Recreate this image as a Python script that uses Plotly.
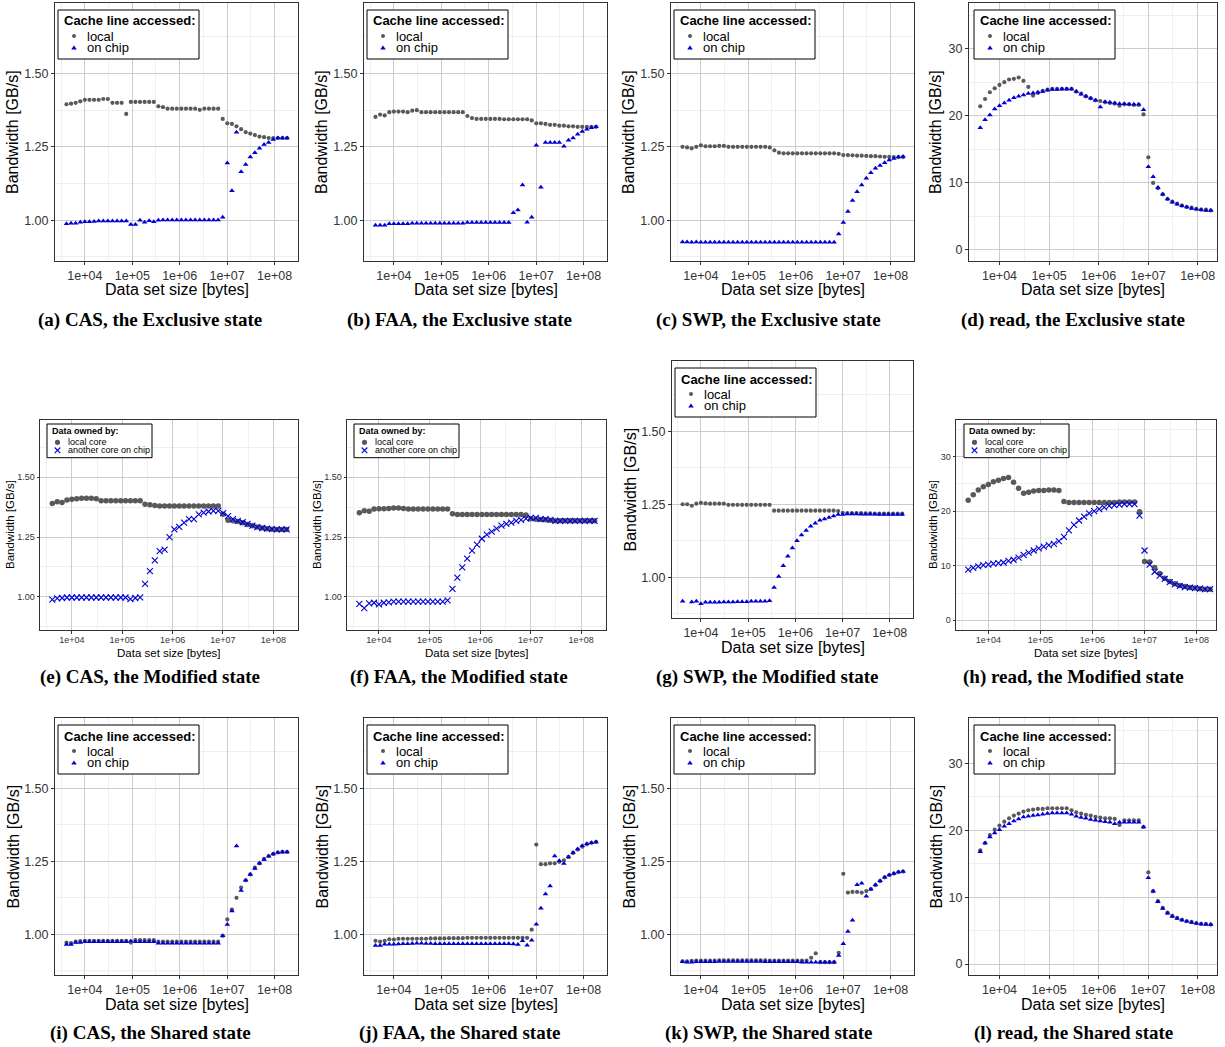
import plotly.graph_objects as go

W, H = 1225, 1047

# ---------------------------------------------------------------- data
# data set sizes in bytes (4 KiB growing by a factor of 1.25)
sizes = [4096, 5120, 6400, 8000, 10000, 12500, 15625, 19531, 24414, 30518,
         38147, 47684, 59605, 74506, 93132, 116415, 145519, 181899, 227374, 284217,
         355271, 444089, 555112, 693889, 867362, 1084202, 1355253, 1694066, 2117582, 2646978,
         3308722, 4135903, 5169879, 6462349, 8077936, 10097420, 12621775, 15777218, 19721523, 24651903,
         30814879, 38518599, 48148249, 60185311, 75231639, 94039548, 117549435, 146936794, 183670992]

x_tick_vals = [1e4, 1e5, 1e6, 1e7, 1e8]
x_tick_labels = ["1e+04", "1e+05", "1e+06", "1e+07", "1e+08"]
gbs_tick_vals = [1.00, 1.25, 1.50]
gbs_tick_labels = ["1.00", "1.25", "1.50"]
read_tick_vals = [0, 10, 20, 30]
read_tick_labels = ["0", "10", "20", "30"]

# (a) CAS, Exclusive
cas_excl_local = [1.395, 1.397, 1.400, 1.405, 1.410, 1.410, 1.410, 1.410, 1.413, 1.413,
                  1.400, 1.400, 1.400, 1.362, 1.403, 1.403, 1.403, 1.403, 1.403, 1.403,
                  1.388, 1.385, 1.380, 1.380, 1.380, 1.380, 1.380, 1.380, 1.380, 1.376,
                  1.380, 1.380, 1.380, 1.380, 1.345, 1.330, 1.328, 1.320, 1.310, 1.300,
                  1.295, 1.290, 1.285, 1.283, 1.280, 1.280, 1.280, 1.280, 1.280]
cas_excl_chip = [0.988, 0.990, 0.990, 0.993, 0.995, 0.995, 0.996, 0.997, 0.997, 0.997,
                 0.997, 0.997, 0.997, 0.997, 0.985, 0.985, 1.000, 0.993, 0.998, 0.995,
                 1.000, 1.001, 1.001, 1.001, 1.001, 1.001, 1.001, 1.001, 1.001, 1.001,
                 1.001, 1.001, 1.001, 1.001, 1.010, 1.195, 1.100, 1.300, 1.165, 1.190,
                 1.215, 1.230, 1.245, 1.258, 1.265, 1.275, 1.280, 1.280, 1.280]

# (b) FAA, Exclusive
faa_excl_local = [1.352, 1.360, 1.357, 1.368, 1.370, 1.370, 1.370, 1.368, 1.373, 1.375,
                  1.368, 1.368, 1.368, 1.368, 1.368, 1.368, 1.368, 1.368, 1.368, 1.368,
                  1.355, 1.348, 1.345, 1.345, 1.345, 1.345, 1.345, 1.345, 1.344, 1.344,
                  1.344, 1.344, 1.344, 1.344, 1.340, 1.330, 1.330, 1.328, 1.325, 1.325,
                  1.322, 1.322, 1.320, 1.320, 1.318, 1.318, 1.318, 1.318, 1.318]
faa_excl_chip = [0.983, 0.983, 0.983, 0.988, 0.988, 0.988, 0.988, 0.988, 0.990, 0.990,
                 0.990, 0.990, 0.990, 0.990, 0.990, 0.990, 0.990, 0.990, 0.990, 0.990,
                 0.992, 0.992, 0.992, 0.992, 0.992, 0.992, 0.992, 0.992, 0.992, 0.992,
                 1.025, 1.035, 1.120, 0.993, 1.010, 1.255, 1.112, 1.265, 1.265, 1.265,
                 1.265, 1.252, 1.272, 1.280, 1.293, 1.302, 1.310, 1.315, 1.318]

# (c) SWP, Exclusive
swp_excl_local = [1.250, 1.248, 1.245, 1.250, 1.255, 1.252, 1.252, 1.252, 1.253, 1.253,
                  1.250, 1.250, 1.250, 1.250, 1.250, 1.250, 1.250, 1.250, 1.250, 1.248,
                  1.238, 1.230, 1.228, 1.228, 1.228, 1.228, 1.228, 1.228, 1.228, 1.228,
                  1.228, 1.228, 1.228, 1.228, 1.226, 1.222, 1.222, 1.221, 1.220, 1.220,
                  1.219, 1.218, 1.218, 1.217, 1.216, 1.216, 1.215, 1.215, 1.215]
swp_excl_chip = [0.926, 0.926, 0.925, 0.926, 0.925, 0.925, 0.925, 0.925, 0.925, 0.925,
                 0.925, 0.925, 0.925, 0.925, 0.925, 0.925, 0.925, 0.925, 0.925, 0.925,
                 0.925, 0.925, 0.925, 0.925, 0.925, 0.925, 0.925, 0.925, 0.925, 0.925,
                 0.925, 0.925, 0.925, 0.925, 0.953, 0.992, 1.030, 1.067, 1.097, 1.120,
                 1.143, 1.162, 1.177, 1.186, 1.196, 1.205, 1.210, 1.215, 1.217]

# (d) read, Exclusive
read_excl_local = [21.4, 22.5, 23.5, 24.1, 24.6, 25.0, 25.4, 25.5, 25.7, 25.2,
                   24.3, 23.0, 23.4, 23.7, 23.9, 24.0, 24.0, 24.0, 24.0, 24.0,
                   23.6, 23.3, 22.9, 22.6, 22.3, 22.2, 22.0, 21.9, 21.8, 21.5,
                   21.7, 21.7, 21.6, 21.6, 20.2, 13.8, 10.0, 9.2, 8.3, 7.6,
                   7.2, 6.9, 6.6, 6.4, 6.3, 6.1, 6.0, 6.0, 5.9]
read_excl_chip = [18.2, 19.4, 20.1, 21.0, 21.5, 21.9, 22.3, 22.7, 22.9, 23.1,
                  23.3, 23.4, 23.5, 23.6, 23.8, 23.9, 23.9, 24.0, 24.0, 24.0,
                  23.6, 23.2, 22.9, 22.6, 22.3, 21.3, 22.1, 22.0, 21.9, 21.8,
                  21.8, 21.7, 21.7, 21.7, 20.9, 12.4, 10.9, 9.3, 8.3, 7.6,
                  7.1, 6.8, 6.6, 6.4, 6.2, 6.1, 6.0, 5.9, 5.9]

# (e) CAS, Modified
cas_mod_local = [1.390, 1.398, 1.395, 1.405, 1.408, 1.410, 1.412, 1.412, 1.412, 1.410,
                 1.402, 1.402, 1.402, 1.402, 1.402, 1.402, 1.402, 1.402, 1.402, 1.387,
                 1.385, 1.382, 1.380, 1.380, 1.380, 1.380, 1.380, 1.380, 1.380, 1.380,
                 1.380, 1.380, 1.380, 1.380, 1.380, 1.345, 1.320, 1.318, 1.315, 1.310,
                 1.303, 1.297, 1.292, 1.288, 1.285, 1.283, 1.282, 1.282, 1.282]
cas_mod_chip = [0.988, 0.993, 0.995, 0.997, 0.997, 0.997, 0.997, 0.997, 0.997, 0.997,
                0.997, 0.997, 0.997, 0.997, 0.997, 0.997, 0.990, 0.995, 0.998, 1.054,
                1.107, 1.152, 1.191, 1.197, 1.250, 1.282, 1.293, 1.310, 1.325, 1.325,
                1.345, 1.352, 1.357, 1.360, 1.360, 1.350, 1.338, 1.325, 1.318, 1.312,
                1.305, 1.298, 1.292, 1.288, 1.285, 1.283, 1.282, 1.282, 1.282]

# (f) FAA, Modified
faa_mod_local = [1.352, 1.360, 1.358, 1.367, 1.368, 1.368, 1.370, 1.372, 1.372, 1.370,
                 1.367, 1.367, 1.367, 1.367, 1.367, 1.367, 1.367, 1.367, 1.367, 1.348,
                 1.344, 1.344, 1.344, 1.344, 1.344, 1.344, 1.344, 1.344, 1.344, 1.344,
                 1.344, 1.344, 1.344, 1.344, 1.342, 1.327, 1.325, 1.324, 1.322, 1.320,
                 1.318, 1.318, 1.318, 1.318, 1.318, 1.318, 1.318, 1.318, 1.318]
faa_mod_chip = [0.970, 0.953, 0.972, 0.975, 0.968, 0.975, 0.977, 0.980, 0.980, 0.980,
                0.980, 0.980, 0.980, 0.980, 0.980, 0.980, 0.980, 0.980, 0.985, 1.033,
                1.080, 1.123, 1.160, 1.193, 1.218, 1.243, 1.260, 1.273, 1.285, 1.298,
                1.305, 1.310, 1.318, 1.322, 1.327, 1.330, 1.330, 1.325, 1.325, 1.322,
                1.318, 1.318, 1.318, 1.318, 1.318, 1.318, 1.318, 1.318, 1.318]

# (g) SWP, Modified
swp_mod_local = [1.250, 1.250, 1.245, 1.252, 1.255, 1.253, 1.252, 1.252, 1.252, 1.252,
                 1.248, 1.248, 1.248, 1.248, 1.248, 1.248, 1.248, 1.248, 1.248, 1.248,
                 1.228, 1.228, 1.228, 1.228, 1.228, 1.228, 1.228, 1.228, 1.228, 1.228,
                 1.228, 1.228, 1.228, 1.228, 1.227, 1.221, 1.220, 1.220, 1.220, 1.220,
                 1.219, 1.219, 1.218, 1.218, 1.218, 1.218, 1.218, 1.218, 1.218]
swp_mod_chip = [0.918, None, 0.916, 0.918, 0.910, 0.915, 0.915, 0.915, 0.915, 0.916,
                0.916, 0.916, 0.917, 0.917, 0.917, 0.918, 0.918, 0.918, 0.918, 0.920,
                0.965, 1.003, 1.040, 1.072, 1.100, 1.125, 1.145, 1.160, 1.175, 1.185,
                1.195, 1.200, 1.205, 1.210, 1.215, 1.215, 1.217, 1.217, 1.217, 1.216,
                1.216, 1.216, 1.216, 1.215, 1.215, 1.215, 1.215, 1.215, 1.215]

# (h) read, Modified
read_mod_local = [22.0, 23.0, 23.9, 24.5, 24.9, 25.4, 25.7, 26.0, 26.2, 25.3,
                  24.2, 23.3, 23.5, 23.7, 23.8, 23.8, 23.9, 23.9, 23.8, 21.8,
                  21.6, 21.6, 21.6, 21.6, 21.6, 21.6, 21.6, 21.6, 21.6, 21.6,
                  21.7, 21.7, 21.7, 21.7, 19.9, 10.8, 10.7, 9.7, 8.6, 7.7,
                  7.1, 6.7, 6.4, 6.2, 6.0, 5.9, 5.8, 5.7, 5.7]
read_mod_chip = [9.3, 9.6, 9.9, 10.1, 10.2, 10.4, 10.5, 10.6, 10.9, 11.1,
                 11.5, 12.0, 12.4, 12.8, 13.2, 13.5, 13.8, 14.0, 14.5, 15.3,
                 16.5, 17.5, 18.3, 19.0, 19.6, 20.0, 20.4, 20.7, 21.0, 21.1,
                 21.2, 21.3, 21.3, 21.3, 19.2, 12.8, 10.2, 8.9, 8.2, 7.6,
                 7.0, 6.6, 6.3, 6.1, 6.0, 5.9, 5.8, 5.7, 5.7]

# (i) CAS, Shared
cas_shr_local = [0.972, 0.970, 0.975, 0.977, 0.978, 0.978, 0.978, 0.978, 0.978, 0.978,
                 0.978, 0.978, 0.978, 0.978, 0.972, 0.980, 0.980, 0.980, 0.980, 0.980,
                 0.975, 0.975, 0.975, 0.975, 0.975, 0.975, 0.975, 0.975, 0.975, 0.975,
                 0.975, 0.975, 0.975, 0.975, 0.995, 1.051, 1.085, 1.125, 1.160, 1.185,
                 1.205, 1.228, 1.243, 1.258, 1.268, 1.275, 1.280, 1.282, 1.282]
cas_shr_chip = [0.965, 0.965, 0.972, 0.972, 0.975, 0.975, 0.975, 0.975, 0.975, 0.975,
                0.975, 0.975, 0.975, 0.975, 0.977, 0.975, 0.975, 0.975, 0.975, 0.975,
                0.970, 0.970, 0.970, 0.970, 0.970, 0.970, 0.970, 0.970, 0.970, 0.970,
                0.970, 0.970, 0.970, 0.970, 0.995, 1.034, 1.080, 1.302, 1.150, 1.185,
                1.205, 1.225, 1.243, 1.256, 1.267, 1.275, 1.280, 1.282, 1.282]

# (j) FAA, Shared
faa_shr_local = [0.978, 0.975, 0.978, 0.983, 0.982, 0.985, 0.985, 0.985, 0.985, 0.985,
                 0.985, 0.985, 0.986, 0.986, 0.986, 0.986, 0.987, 0.987, 0.987, 0.987,
                 0.988, 0.988, 0.988, 0.988, 0.988, 0.988, 0.988, 0.988, 0.988, 0.988,
                 0.988, 0.988, 0.988, 0.988, 1.016, 1.307, 1.240, 1.240, 1.243, 1.243,
                 1.248, 1.253, 1.265, 1.278, 1.290, 1.300, 1.308, 1.313, 1.316]
faa_shr_chip = [0.962, 0.962, 0.966, 0.966, 0.966, 0.967, 0.968, 0.968, 0.969, 0.970,
                0.970, 0.969, 0.969, 0.968, 0.968, 0.968, 0.968, 0.968, 0.968, 0.968,
                0.968, 0.968, 0.968, 0.968, 0.968, 0.968, 0.968, 0.968, 0.968, 0.968,
                0.967, 0.965, 0.978, 0.963, 0.980, 1.035, 1.089, 1.138, 1.165, 1.268,
                1.252, 1.242, 1.265, 1.280, 1.292, 1.303, 1.310, 1.313, 1.316]

# (k) SWP, Shared
swp_shr_local = [0.908, 0.908, 0.909, 0.910, 0.910, 0.910, 0.910, 0.910, 0.911, 0.911,
                 0.911, 0.911, 0.911, 0.911, 0.911, 0.911, 0.911, 0.911, 0.911, 0.910,
                 0.910, 0.910, 0.910, 0.910, 0.910, 0.910, 0.910, 0.910, 0.920, 0.935,
                 0.905, 0.905, 0.905, 0.905, 0.937, 1.207, 1.143, 1.145, 1.145, 1.143,
                 1.148, 1.155, 1.168, 1.182, 1.195, 1.203, 1.208, 1.213, 1.215]
swp_shr_chip = [0.906, 0.905, 0.905, 0.906, 0.906, 0.906, 0.906, 0.906, 0.907, 0.907,
                0.907, 0.907, 0.907, 0.907, 0.907, 0.907, 0.907, 0.907, 0.906, 0.906,
                0.906, 0.906, 0.906, 0.906, 0.906, 0.906, 0.905, 0.905, 0.905, 0.905,
                0.905, 0.905, 0.905, 0.905, 0.928, 0.968, 1.010, 1.048, 1.170, 1.175,
                1.130, 1.154, 1.170, 1.183, 1.195, 1.203, 1.208, 1.213, 1.215]

# (l) read, Shared
read_shr_local = [17.0, 18.1, 19.3, 20.1, 20.7, 21.3, 21.8, 22.2, 22.5, 22.8,
                  23.0, 23.1, 23.2, 23.2, 23.3, 23.3, 23.3, 23.3, 23.3, 23.0,
                  22.7, 22.5, 22.3, 22.2, 22.0, 21.9, 21.8, 21.8, 21.7, 20.8,
                  21.5, 21.5, 21.5, 21.5, 20.5, 13.7, 10.9, 9.4, 8.4, 7.7,
                  7.2, 6.9, 6.6, 6.4, 6.3, 6.1, 6.0, 6.0, 5.9]
read_shr_chip = [16.8, 18.1, 19.0, 19.6, 20.1, 20.6, 21.0, 21.4, 21.7, 22.0,
                 22.1, 22.2, 22.3, 22.4, 22.5, 22.6, 22.6, 22.6, 22.6, 22.4,
                 22.1, 21.9, 21.8, 21.6, 21.5, 21.4, 21.3, 21.2, 21.0, 21.2,
                 21.2, 21.2, 21.2, 21.2, 20.5, 12.9, 10.9, 9.3, 8.3, 7.6,
                 7.1, 6.8, 6.6, 6.4, 6.2, 6.1, 6.0, 5.9, 5.9]

# ---------------------------------------------------------------- styling
GRAY = "#595959"
BLUE = "#0000d6"
FRAME = "#333333"
GRID = "#cccccc"
MINOR = "#efefef"
SANS = "Liberation Sans, Arial, sans-serif"
SERIF = "Liberation Serif, Times New Roman, serif"

GBS_RANGE = (0.861, 1.740)
READ_RANGE = (-1.64, 36.8)

# panel frames in pixels: (left, right, top, bottom)
panels = [
    dict(cap="(a) CAS, the Exclusive state", loc=cas_excl_local, chip=cas_excl_chip,
         box=(55, 298, 3, 261), xr=(3.37, 8.495), yr=GBS_RANGE, read=False, small=False, cx=150, cy=320, ldx=3),
    dict(cap="(b) FAA, the Exclusive state", loc=faa_excl_local, chip=faa_excl_chip,
         box=(364, 607, 3, 261), xr=(3.37, 8.495), yr=GBS_RANGE, read=False, small=False, cx=459, cy=320, ldx=3),
    dict(cap="(c) SWP, the Exclusive state", loc=swp_excl_local, chip=swp_excl_chip,
         box=(671, 914, 3, 261), xr=(3.37, 8.495), yr=GBS_RANGE, read=False, small=False, cx=768, cy=320, ldx=3),
    dict(cap="(d) read, the Exclusive state", loc=read_excl_local, chip=read_excl_chip,
         box=(969, 1217, 3, 261), xr=(3.385, 8.39), yr=READ_RANGE, read=True, small=False, cx=1073, cy=320, ldx=5),
    dict(cap="(e) CAS, the Modified state", loc=cas_mod_local, chip=cas_mod_chip,
         box=(40, 298, 420, 630), xr=(3.368, 8.49), yr=GBS_RANGE, read=False, small=True, cx=150, cy=677, ldx=7),
    dict(cap="(f) FAA, the Modified state", loc=faa_mod_local, chip=faa_mod_chip,
         box=(347, 606, 420, 630), xr=(3.368, 8.49), yr=GBS_RANGE, read=False, small=True, cx=459, cy=677, ldx=7),
    dict(cap="(g) SWP, the Modified state", loc=swp_mod_local, chip=swp_mod_chip,
         box=(672, 913, 361, 618), xr=(3.387, 8.493), yr=GBS_RANGE, read=False, small=False, cx=767, cy=677, ldx=3),
    dict(cap="(h) read, the Modified state", loc=read_mod_local, chip=read_mod_chip,
         box=(956, 1216, 420, 630), xr=(3.378, 8.378), yr=(-1.78, 36.73), read=True, small=True, cx=1073, cy=677, ldx=8),
    dict(cap="(i) CAS, the Shared state", loc=cas_shr_local, chip=cas_shr_chip,
         box=(55, 298, 718, 975), xr=(3.37, 8.495), yr=GBS_RANGE, read=False, small=False, cx=150, cy=1033, ldx=3),
    dict(cap="(j) FAA, the Shared state", loc=faa_shr_local, chip=faa_shr_chip,
         box=(364, 607, 718, 975), xr=(3.37, 8.495), yr=GBS_RANGE, read=False, small=False, cx=459, cy=1033, ldx=3),
    dict(cap="(k) SWP, the Shared state", loc=swp_shr_local, chip=swp_shr_chip,
         box=(671, 914, 718, 975), xr=(3.37, 8.495), yr=GBS_RANGE, read=False, small=False, cx=768, cy=1033, ldx=3),
    dict(cap="(l) read, the Shared state", loc=read_shr_local, chip=read_shr_chip,
         box=(969, 1217, 718, 975), xr=(3.385, 8.39), yr=READ_RANGE, read=True, small=False, cx=1073, cy=1033, ldx=5),
]


def fx(px):
    return px / W


def fy(py):
    return 1 - py / H


fig = go.Figure()
shapes = []
annotations = []
layout_axes = {}

for i, p in enumerate(panels, start=1):
    L, R, T, B = p["box"]
    small = p["small"]
    xs = "" if i == 1 else str(i)
    tick_size = 9 if small else 12.5
    title_size = 11.5 if small else 16

    # data
    if small:
        loc_marker = dict(symbol="circle", size=5.5, color=GRAY)
        chip_marker = dict(symbol="x-thin", size=6, color=BLUE, line=dict(width=1.1, color=BLUE))
    else:
        loc_marker = dict(symbol="circle", size=4.2, color=GRAY)
        chip_marker = dict(symbol="triangle-up", size=5, color=BLUE)
    fig.add_trace(go.Scatter(x=sizes, y=p["loc"], mode="markers", marker=loc_marker,
                             xaxis="x" + xs, yaxis="y" + xs, showlegend=False, hoverinfo="x+y"))
    fig.add_trace(go.Scatter(x=sizes, y=p["chip"], mode="markers", marker=chip_marker,
                             xaxis="x" + xs, yaxis="y" + xs, showlegend=False, hoverinfo="x+y"))

    common = dict(showline=True, mirror=True, linecolor=FRAME, linewidth=1,
                  ticks="outside", ticklen=3 if not small else 2.5, tickwidth=1, tickcolor=FRAME,
                  showgrid=True, gridcolor=GRID, gridwidth=1, zeroline=False,
                  tickfont=dict(family=SANS, size=tick_size, color="#333333"))
    layout_axes["xaxis" + xs] = dict(
        common, type="log", domain=[fx(L), fx(R)], range=list(p["xr"]), anchor="y" + xs,
        tickmode="array", tickvals=x_tick_vals, ticktext=x_tick_labels,
        ticklabelstandoff=-1 if small else 0,
        minor=dict(tickvals=[10 ** 3.5, 10 ** 4.5, 10 ** 5.5, 10 ** 6.5, 10 ** 7.5],
                   showgrid=True, gridcolor=MINOR, gridwidth=0.6, ticks=""))
    if p["read"]:
        yt, ytl, ymin = read_tick_vals, read_tick_labels, [5, 15, 25, 35]
    else:
        yt, ytl, ymin = gbs_tick_vals, gbs_tick_labels, [0.875, 1.125, 1.375, 1.625]
    layout_axes["yaxis" + xs] = dict(
        common, domain=[fy(B), fy(T)], range=list(p["yr"]), anchor="x" + xs,
        tickmode="array", tickvals=yt, ticktext=ytl,
        minor=dict(tickvals=ymin, showgrid=True, gridcolor=MINOR, gridwidth=0.6, ticks=""))

    # axis titles
    annotations.append(dict(text="Data set size [bytes]", x=fx((L + R) / 2), y=fy(B + (22.5 if small else 29)),
                            xref="paper", yref="paper", showarrow=False, xanchor="center", yanchor="middle",
                            font=dict(family=SANS, size=title_size, color="black")))
    if small:
        ty = L - (23 if p["read"] else 30)
    else:
        ty = L - (33 if p["read"] else 42)
    annotations.append(dict(text="Bandwidth [GB/s]", x=fx(ty), y=fy((T + B) / 2), textangle=-90,
                            xref="paper", yref="paper", showarrow=False, xanchor="center", yanchor="middle",
                            font=dict(family=SANS, size=title_size, color="black")))

    # caption
    annotations.append(dict(text="<b>" + p["cap"] + "</b>", x=fx(p["cx"]), y=fy(p["cy"]),
                            xref="paper", yref="paper", showarrow=False, xanchor="center", yanchor="middle",
                            font=dict(family=SERIF, size=19, color="black")))

    # key box
    bx = L + p["ldx"]
    if small:
        bw, top, bot = 105, T + 4, T + 37.7
        title, names, fs = "Data owned by:", ["local core", "another core on chip"], 9
        ty0, rows, gx, tx = T + 11, [T + 22.3, T + 30.3], bx + 10.5, bx + 19.5
    else:
        bw, top, bot = 141, T + 7, T + 56
        title, names, fs = "Cache line accessed:", ["local", "on chip"], 13
        ty0, rows, gx, tx = T + 18, [T + 33, T + 44.5], bx + 16, bx + 28
    shapes.append(dict(type="rect", xref="paper", yref="paper", x0=fx(bx), x1=fx(bx + bw),
                       y0=fy(bot), y1=fy(top), line=dict(color="black", width=1),
                       fillcolor="white", layer="above"))
    annotations.append(dict(text="<b>" + title + "</b>", x=fx(bx + (4 if small else 5) - 1), y=fy(ty0),
                            xref="paper", yref="paper", showarrow=False, xanchor="left", yanchor="middle",
                            font=dict(family=SANS, size=fs, color="black")))
    for name, ry in zip(names, rows):
        annotations.append(dict(text=name, x=fx(tx - 1), y=fy(ry), xref="paper", yref="paper",
                                showarrow=False, xanchor="left", yanchor="middle",
                                font=dict(family=SANS, size=fs, color="black")))
    # key glyphs
    r = 2.6 if small else 2.0
    shapes.append(dict(type="circle", xref="paper", yref="paper", x0=fx(gx - r), x1=fx(gx + r),
                       y0=fy(rows[0] + r), y1=fy(rows[0] - r), fillcolor=GRAY, line=dict(width=0),
                       layer="above"))
    cy = rows[1]
    if small:
        d = 2.8
        for (x0, y0, x1, y1) in [(gx - d, cy - d, gx + d, cy + d), (gx - d, cy + d, gx + d, cy - d)]:
            shapes.append(dict(type="line", xref="paper", yref="paper", x0=fx(x0), y0=fy(y0),
                               x1=fx(x1), y1=fy(y1), line=dict(color=BLUE, width=1.1), layer="above"))
    else:
        hw, hh = 2.8, 2.1
        path = "M {:.5f},{:.5f} L {:.5f},{:.5f} L {:.5f},{:.5f} Z".format(
            fx(gx - hw), fy(cy + hh), fx(gx + hw), fy(cy + hh), fx(gx), fy(cy - hh))
        shapes.append(dict(type="path", xref="paper", yref="paper", path=path, fillcolor=BLUE,
                           line=dict(width=0), layer="above"))

fig.update_layout(
    width=W, height=H, margin=dict(l=0, r=0, t=0, b=0),
    paper_bgcolor="white", plot_bgcolor="white", showlegend=False,
    shapes=shapes, annotations=annotations, **layout_axes)

fig.write_html("out.html")
